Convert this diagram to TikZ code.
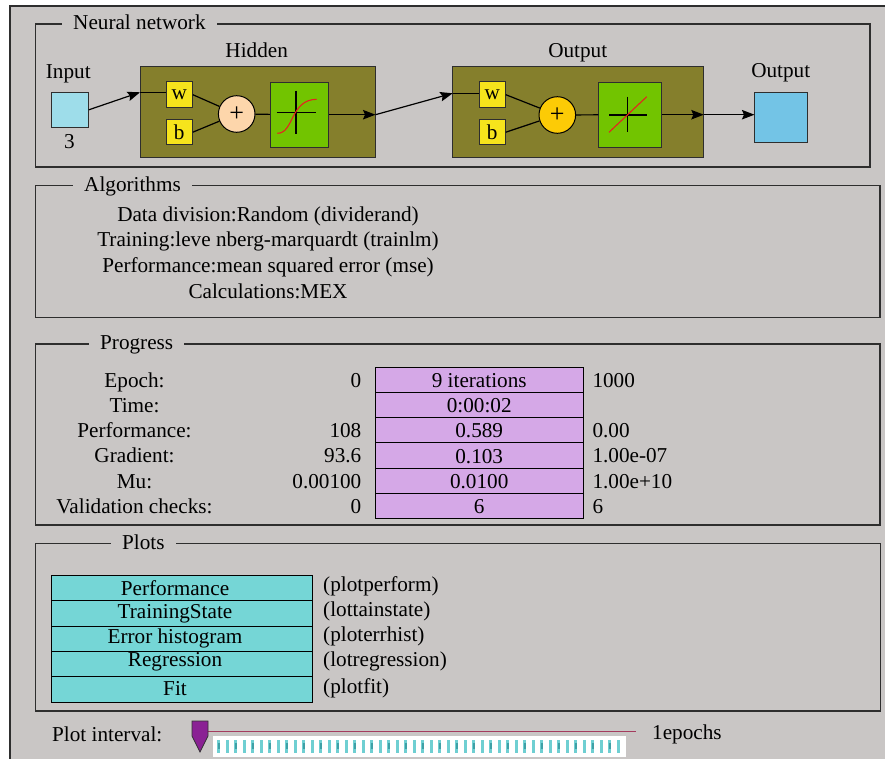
\documentclass[tikz,border=0pt]{standalone}
\usepackage{fontspec}
\setmainfont{Liberation Serif}
\usetikzlibrary{arrows.meta}

\definecolor{panelgray}{HTML}{C9C6C5}
\definecolor{framegray}{HTML}{2E2E2E}
\definecolor{inputblue}{HTML}{9EDDEA}
\definecolor{outputblue}{HTML}{73C4E6}
\definecolor{layerolive}{HTML}{857F2C}
\definecolor{wbyellow}{HTML}{F6E41C}
\definecolor{sumpeach}{HTML}{FDD6AB}
\definecolor{sumorange}{HTML}{FCCB06}
\definecolor{actgreen}{HTML}{72C400}
\definecolor{curvered}{HTML}{E52320}
\definecolor{cellpurple}{HTML}{D5A8E7}
\definecolor{btncyan}{HTML}{75D6D6}
\definecolor{knobpurple}{HTML}{8A2194}
\definecolor{sliderline}{HTML}{A43C5E}
\definecolor{tickcyan}{HTML}{6FCFD2}
\definecolor{tickteal}{HTML}{3FA0A6}

\begin{document}
\begin{tikzpicture}[x=1pt, y=-1pt, font=\fontsize{21.2}{25}\selectfont,
  every node/.style={inner sep=0pt},
  group/.style={draw=framegray, line width=1.3pt},
  grouptitle/.style={fill=panelgray, inner xsep=11pt, inner ysep=3pt, anchor=base west},
  lbl/.style={anchor=base},
  wire/.style={draw=black, line width=1.2pt},
  flow/.style={wire, -{Stealth[length=12.5pt, width=9.5pt, inset=2pt]}},
  layerbox/.style={draw=framegray, line width=1pt, fill=layerolive, minimum width=#1, minimum height=90.6pt},
  wbbox/.style={draw=framegray, line width=0.9pt, fill=wbyellow, minimum width=26.3pt, minimum height=25.5pt},
  sumnode/.style={circle, draw=black, line width=1pt, fill=#1, minimum size=36.6pt, font=\fontsize{26}{26}\selectfont},
  actbox/.style={draw=framegray, line width=1pt, fill=actgreen, minimum width=#1, minimum height=65.3pt},
  iobox/.style={draw=framegray, line width=1pt, fill=#1},
  cell/.style={draw=black, line width=1pt, fill=cellpurple, minimum width=208.3pt, minimum height=25.3pt, text height=15pt, text depth=0pt},
  plotbtn/.style={draw=black, line width=1pt, fill=btncyan, minimum width=261.3pt, minimum height=25.3pt, anchor=north}]

\useasboundingbox (0,0) rectangle (885,759);
\fill[white] (0,0) rectangle (885,759);
\fill[panelgray] (10,6) rectangle (885,759);
\draw[framegray, line width=1.5pt] (10,759) -- (10,6) -- (885,6);

% group frames
\draw[group] (35.5,24) rectangle (870,167);
\draw[group] (35.5,185.3) rectangle (880,317.5);
\draw[group] (35.5,344) rectangle (880,525);
\draw[group] (35.5,543.3) rectangle (880.5,711);
\node[grouptitle] (nntitle) at (62,29.5) {Neural network};
\node[grouptitle] (algtitle) at (73,191.5) {Algorithms};
\node[grouptitle] (progtitle) at (89,349) {Progress};
\node[grouptitle] (plotstitle) at (111,549) {Plots};

% network
\node[lbl] (inputlbl) at (68.3,78.3) {Input};
\node[iobox=inputblue, minimum width=37.3pt, minimum height=35pt] (inbox) at (69.7,109.8) {};
\node[lbl] (inputnum) at (69.3,149) {3};

\node[lbl] (hiddenlbl) at (256.7,57.7) {Hidden};
\node[layerbox=235pt] (hidden) at (257.5,112) {};
\node[wbbox] (hw) at (179.2,94.7) {w};
\node[wbbox] (hb) at (179.2,132.2) {b};
\node[sumnode=sumpeach] (hsum) at (236.7,114) {+};
\node[actbox=58pt] (hact) at (299.3,114.7) {};
\draw[black, line width=1.1pt] (276.7,112.7) -- (316,112.7) (296,90.7) -- (296,134);
\draw[curvered, line width=1.1pt] (277.3,133.3) .. controls (294,133.5) and (290,99.5) .. (316.7,99.3);

\node[lbl] (outlayerlbl) at (577.7,57.7) {Output};
\node[layerbox=250.6pt] (olayer) at (578,112) {};
\node[wbbox] (ow) at (492.2,94.7) {w};
\node[wbbox] (ob) at (492.2,132.2) {b};
\node[sumnode=sumorange] (osum) at (557.3,115) {+};
\node[actbox=62.7pt] (oact) at (630.3,114.7) {};
\draw[black, line width=1.1pt] (609,115) -- (646.7,115) (627.7,96.7) -- (627.7,132.3);
\draw[curvered, line width=1.1pt] (609,132.3) -- (646.7,96.7);

\node[lbl] (outputlbl) at (780.7,78) {Output};
\node[iobox=outputblue, minimum width=52.7pt, minimum height=50.4pt] (outbox) at (781.3,117.5) {};

\coordinate (hidIn) at (140,92.3);
\coordinate (hidOut) at (hact.east -| hidden.east);
\coordinate (outIn) at (452.7,93.3);
\coordinate (outOut) at (oact.east -| olayer.east);

\draw[flow] (inbox.east) -- (hidIn);
\draw[wire] (hidIn) -- (hidIn -| hw.west);
\draw[wire] (hw.east) -- (hsum);
\draw[wire] (hb.east) -- (hsum);
\draw[wire] (hsum) -- (hact);
\draw[flow] (hact.east) -- (hidOut);
\draw[flow] (hidOut) -- (outIn);
\draw[wire] (outIn) -- (outIn -| ow.west);
\draw[wire] (ow.east) -- (osum);
\draw[wire] (ob.east) -- (osum);
\draw[wire] (osum) -- (oact);
\draw[flow] (oact.east) -- (outOut);
\draw[flow] (outOut) -- (outOut -| outbox.west);

% algorithms
\node[lbl] (algdiv) at (268,221.5) {Data division:Random (dividerand)};
\node[lbl] (algtrain) at (268,247) {Training:leve nberg-marquardt (trainlm)};
\node[lbl] (algperf) at (268,272.5) {Performance:mean squared error (mse)};
\node[lbl] (algcalc) at (268,298) {Calculations:MEX};

% progress
\foreach \name/\start/\now/\stop [count=\k from 0] in
  {{Epoch:}/{0}/{9 iterations}/{1000},
   {Time:}/{}/{0:00:02}/{},
   {Performance:}/{108}/{0.589}/{0.00},
   {Gradient:}/{93.6}/{0.103}/{1.00e-07},
   {Mu:}/{0.00100}/{0.0100}/{1.00e+10},
   {Validation checks:}/{0}/{6}/{6}}
{
  \node[lbl] (prname\k) at (134.5,{387+25.3*\k}) {\name};
  \node[anchor=base east] (prstart\k) at (361.5,{387+25.3*\k}) {\start};
  \node[cell] (prnow\k) at (479.2,{379.65+25.3*\k}) {\now};
  \node[anchor=base west] (prstop\k) at (592.3,{387+25.3*\k}) {\stop};
}

% plots
\foreach \top/\base/\name/\cmdbase/\cmd [count=\k] in
  {575/595/Performance/591.7/plotperform,
   600.3/618.3/TrainingState/616.7/lottainstate,
   625.6/643.3/Error histogram/641.7/ploterrhist,
   650.9/666.7/Regression/666.7/lotregression,
   676.2/695.7/Fit/693.3/plotfit}
{
  \node[plotbtn] (btn\k) at (181.7,\top) {};
  \node[lbl] (btnlbl\k) at (175,\base) {\name};
  \node[anchor=base west] (btncmd\k) at (323,\cmdbase) {(\cmd)};
}

% plot interval slider
\node[anchor=base west] (intervallbl) at (52,741.7) {Plot interval:};
\node[anchor=base west] (epochslbl) at (652,739) {1epochs};
\draw[sliderline, line width=1pt] (208,731.7) -- (636,731.7);
\fill[white] (213,736) rectangle (626,757);
\foreach \i in {0,...,47}
  \fill[tickcyan] ({217+8.5*\i},739.5) rectangle ++(3.4,13);
\foreach \i in {0,2,...,46}
  \fill[tickteal] ({217.5+8.5*\i},743) rectangle ++(2.4,6);
\filldraw[fill=knobpurple, draw=black!80, line width=0.8pt]
  (192,721) -- (208,721) -- (208,736) -- (200,752) -- (192,736) -- cycle;
\end{tikzpicture}
\end{document}
